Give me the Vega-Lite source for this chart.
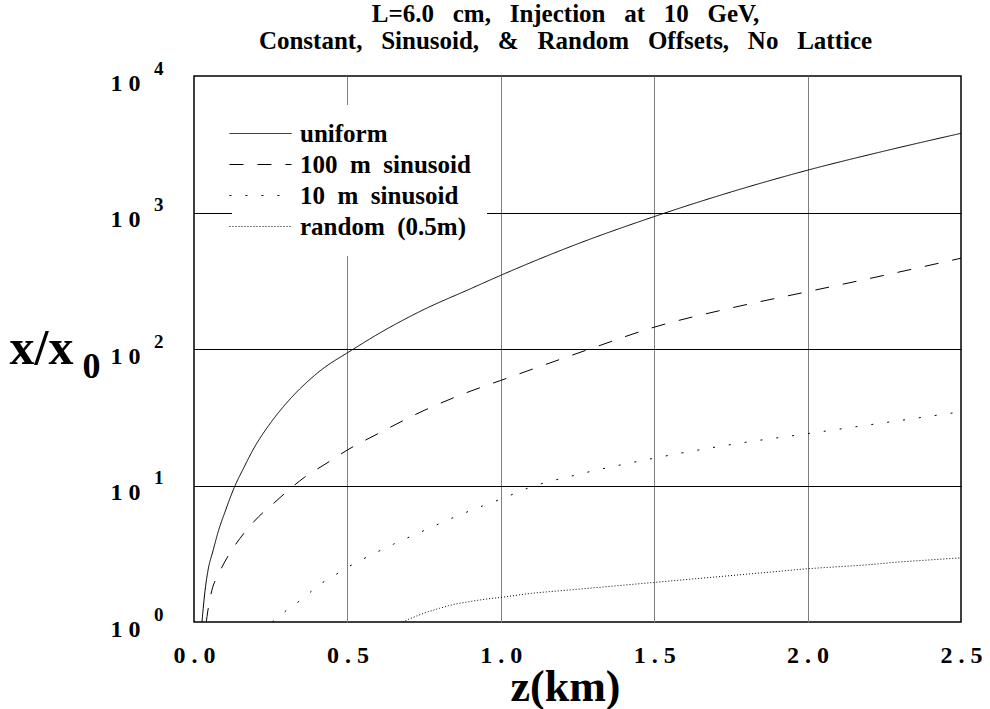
{
  "$schema": "https://vega.github.io/schema/vega-lite/v6.json",
  "width": 767,
  "height": 546,
  "autosize": {"type": "none"},
  "padding": {"left": 194, "top": 76, "right": 29, "bottom": 87},
  "background": "white",
  "title": {
    "text": ["L=6.0\u00a0\u00a0 cm,\u00a0\u00a0 Injection\u00a0\u00a0 at\u00a0\u00a0 10\u00a0\u00a0 GeV,", "Constant,\u00a0\u00a0 Sinusoid,\u00a0\u00a0 &\u00a0\u00a0 Random\u00a0\u00a0 Offsets,\u00a0\u00a0 No\u00a0\u00a0 Lattice"],
    "font": "Liberation Serif",
    "fontWeight": "bold",
    "fontSize": 25,
    "lineHeight": 27,
    "anchor": "middle",
    "offset": 5,
    "dx": -12,
    "color": "black"
  },
  "config": {
    "view": {"stroke": "black", "strokeWidth": 1.5},
    "font": "Liberation Serif",
    "legend": {
      "orient": "none",
      "legendX": 38,
      "legendY": 29,
      "fillColor": "white",
      "padding": 16,
      "symbolType": "M-5,0H5",
      "symbolSize": 154,
      "symbolStrokeColor": "black",
      "symbolFillColor": "transparent",
      "symbolStrokeWidth": 1,
      "labelFont": "Liberation Serif",
      "labelFontWeight": "bold",
      "labelFontSize": 25,
      "labelColor": "black",
      "labelOffset": 27,
      "labelLimit": 400,
      "rowPadding": 5
    }
  },
  "data": {
    "values": [
      {"series": "uniform", "z": 0.026, "v": 1},
      {"series": "uniform", "z": 0.03, "v": 1.259},
      {"series": "uniform", "z": 0.036, "v": 1.698},
      {"series": "uniform", "z": 0.045, "v": 2.344},
      {"series": "uniform", "z": 0.063, "v": 3.388},
      {"series": "uniform", "z": 0.08, "v": 4.677},
      {"series": "uniform", "z": 0.1, "v": 6.31},
      {"series": "uniform", "z": 0.134, "v": 10},
      {"series": "uniform", "z": 0.16, "v": 13.18},
      {"series": "uniform", "z": 0.192, "v": 18.2},
      {"series": "uniform", "z": 0.25, "v": 28.84},
      {"series": "uniform", "z": 0.3, "v": 39.81},
      {"series": "uniform", "z": 0.4, "v": 66.07},
      {"series": "uniform", "z": 0.52, "v": 100},
      {"series": "uniform", "z": 0.6, "v": 128.8},
      {"series": "uniform", "z": 0.75, "v": 195},
      {"series": "uniform", "z": 0.9, "v": 275.4},
      {"series": "uniform", "z": 1.0, "v": 346.7},
      {"series": "uniform", "z": 1.25, "v": 588.8},
      {"series": "uniform", "z": 1.5, "v": 933.3},
      {"series": "uniform", "z": 1.75, "v": 1412.5},
      {"series": "uniform", "z": 2.0, "v": 2041.7},
      {"series": "uniform", "z": 2.25, "v": 2818.4},
      {"series": "uniform", "z": 2.5, "v": 3801.9},

      {"series": "100 m sinusoid", "z": 0.04, "v": 1},
      {"series": "100 m sinusoid", "z": 0.045, "v": 1.202},
      {"series": "100 m sinusoid", "z": 0.058, "v": 1.698},
      {"series": "100 m sinusoid", "z": 0.08, "v": 2.239},
      {"series": "100 m sinusoid", "z": 0.1, "v": 2.754},
      {"series": "100 m sinusoid", "z": 0.13, "v": 3.548},
      {"series": "100 m sinusoid", "z": 0.17, "v": 4.677},
      {"series": "100 m sinusoid", "z": 0.21, "v": 5.888},
      {"series": "100 m sinusoid", "z": 0.26, "v": 7.413},
      {"series": "100 m sinusoid", "z": 0.31, "v": 9.333},
      {"series": "100 m sinusoid", "z": 0.36, "v": 11.48},
      {"series": "100 m sinusoid", "z": 0.43, "v": 14.45},
      {"series": "100 m sinusoid", "z": 0.5, "v": 18.2},
      {"series": "100 m sinusoid", "z": 0.6, "v": 23.99},
      {"series": "100 m sinusoid", "z": 0.75, "v": 35.48},
      {"series": "100 m sinusoid", "z": 0.9, "v": 48.98},
      {"series": "100 m sinusoid", "z": 1.0, "v": 58.88},
      {"series": "100 m sinusoid", "z": 1.29, "v": 100},
      {"series": "100 m sinusoid", "z": 1.5, "v": 144.5},
      {"series": "100 m sinusoid", "z": 1.75, "v": 199.5},
      {"series": "100 m sinusoid", "z": 2.0, "v": 263},
      {"series": "100 m sinusoid", "z": 2.25, "v": 346.7},
      {"series": "100 m sinusoid", "z": 2.5, "v": 462.4},

      {"series": "10 m sinusoid", "z": 0.255, "v": 1},
      {"series": "10 m sinusoid", "z": 0.31, "v": 1.259},
      {"series": "10 m sinusoid", "z": 0.36, "v": 1.514},
      {"series": "10 m sinusoid", "z": 0.4, "v": 1.82},
      {"series": "10 m sinusoid", "z": 0.45, "v": 2.138},
      {"series": "10 m sinusoid", "z": 0.5, "v": 2.512},
      {"series": "10 m sinusoid", "z": 0.55, "v": 2.884},
      {"series": "10 m sinusoid", "z": 0.65, "v": 3.715},
      {"series": "10 m sinusoid", "z": 0.75, "v": 4.677},
      {"series": "10 m sinusoid", "z": 0.84, "v": 5.754},
      {"series": "10 m sinusoid", "z": 0.94, "v": 7.079},
      {"series": "10 m sinusoid", "z": 1.0, "v": 7.943},
      {"series": "10 m sinusoid", "z": 1.1, "v": 9.772},
      {"series": "10 m sinusoid", "z": 1.25, "v": 12.02},
      {"series": "10 m sinusoid", "z": 1.5, "v": 15.85},
      {"series": "10 m sinusoid", "z": 1.75, "v": 19.95},
      {"series": "10 m sinusoid", "z": 2.0, "v": 23.99},
      {"series": "10 m sinusoid", "z": 2.25, "v": 28.84},
      {"series": "10 m sinusoid", "z": 2.5, "v": 34.67},

      {"series": "random (0.5m)", "z": 0.68, "v": 1},
      {"series": "random (0.5m)", "z": 0.7, "v": 1.047},
      {"series": "random (0.5m)", "z": 0.75, "v": 1.161},
      {"series": "random (0.5m)", "z": 0.8, "v": 1.259},
      {"series": "random (0.5m)", "z": 0.84, "v": 1.334},
      {"series": "random (0.5m)", "z": 0.9, "v": 1.413},
      {"series": "random (0.5m)", "z": 0.96, "v": 1.479},
      {"series": "random (0.5m)", "z": 1.0, "v": 1.514},
      {"series": "random (0.5m)", "z": 1.1, "v": 1.622},
      {"series": "random (0.5m)", "z": 1.2, "v": 1.698},
      {"series": "random (0.5m)", "z": 1.3, "v": 1.778},
      {"series": "random (0.5m)", "z": 1.4, "v": 1.862},
      {"series": "random (0.5m)", "z": 1.5, "v": 1.95},
      {"series": "random (0.5m)", "z": 1.6, "v": 2.042},
      {"series": "random (0.5m)", "z": 1.7, "v": 2.138},
      {"series": "random (0.5m)", "z": 1.8, "v": 2.239},
      {"series": "random (0.5m)", "z": 1.9, "v": 2.344},
      {"series": "random (0.5m)", "z": 2.0, "v": 2.455},
      {"series": "random (0.5m)", "z": 2.1, "v": 2.541},
      {"series": "random (0.5m)", "z": 2.2, "v": 2.63},
      {"series": "random (0.5m)", "z": 2.3, "v": 2.754},
      {"series": "random (0.5m)", "z": 2.4, "v": 2.851},
      {"series": "random (0.5m)", "z": 2.5, "v": 2.951}
    ]
  },
  "layer": [
    {
      "mark": {"type": "line", "color": "black", "strokeWidth": 1, "interpolate": "monotone", "clip": true},
      "encoding": {
        "x": {
          "field": "z",
          "type": "quantitative",
          "scale": {"domain": [0, 2.5], "nice": false, "zero": false},
          "axis": {
            "values": [0, 0.5, 1, 1.5, 2, 2.5],
            "labelExpr": "replace(format(datum.value, '.1f'), '.', ' . ')",
            "labelFont": "Liberation Serif",
            "labelFontWeight": "bold",
            "labelFontSize": 24,
            "labelColor": "black",
            "labelPadding": 21,
            "labelFlush": false,
            "labelOverlap": false,
            "ticks": false,
            "domain": false,
            "grid": true,
            "gridColor": "#808080",
            "gridWidth": 1,
            "gridOpacity": {"condition": {"test": "datum.value == 0 || datum.value == 2.5", "value": 0}, "value": 1},
            "title": "z(km)",
            "titleFont": "Liberation Serif",
            "titleFontWeight": "bold",
            "titleFontSize": 44,
            "titleColor": "black",
            "titleX": 371,
            "titleY": 78,
            "titleBaseline": "alphabetic"
          }
        },
        "y": {
          "field": "v",
          "type": "quantitative",
          "scale": {"type": "log", "domain": [1, 10000], "nice": false},
          "axis": {
            "values": [1, 10, 100, 1000, 10000],
            "labelExpr": "'1 0'",
            "labelFont": "Liberation Serif",
            "labelFontWeight": "bold",
            "labelFontSize": 24,
            "labelColor": "black",
            "labelPadding": 54,
            "labelOffset": 7,
            "labelFlush": false,
            "labelOverlap": false,
            "ticks": false,
            "domain": false,
            "grid": true,
            "gridColor": "black",
            "gridWidth": 1,
            "gridOpacity": {"condition": {"test": "datum.value == 1 || datum.value == 10000", "value": 0}, "value": 1},
            "title": "x/x",
            "titleFont": "Liberation Serif",
            "titleFontWeight": "bold",
            "titleFontSize": 50,
            "titleColor": "black",
            "titleAngle": 0,
            "titleAlign": "left",
            "titleBaseline": "middle",
            "titleX": -185,
            "titleY": 272
          }
        },
        "strokeDash": {
          "field": "series",
          "type": "nominal",
          "scale": {
            "domain": ["uniform", "100 m sinusoid", "10 m sinusoid", "random (0.5m)"],
            "range": [[1, 0], [14, 14], [2, 14], [1, 2]]
          },
          "legend": {"title": null, "labelExpr": "replace(datum.label, / /g, '\u00a0 ')"}
        }
      }
    },
    {
      "mark": {"type": "line", "opacity": 0, "strokeWidth": 0},
      "encoding": {
        "x": {"field": "z", "type": "quantitative"},
        "y": {
          "field": "v",
          "type": "quantitative",
          "axis": {
            "orient": "left",
            "values": [1, 10, 100, 1000, 10000],
            "labelExpr": "datum.value == 1 ? '0' : datum.value == 10 ? '1' : datum.value == 100 ? '2' : datum.value == 1000 ? '3' : '4'",
            "labelFont": "Liberation Serif",
            "labelFontWeight": "bold",
            "labelFontSize": 19,
            "labelColor": "black",
            "labelPadding": 31,
            "labelOffset": -8,
            "labelFlush": false,
            "labelOverlap": false,
            "ticks": false,
            "domain": false,
            "grid": false,
            "title": "0",
            "titleFont": "Liberation Serif",
            "titleFontWeight": "bold",
            "titleFontSize": 36,
            "titleColor": "black",
            "titleAngle": 0,
            "titleAlign": "left",
            "titleBaseline": "middle",
            "titleX": -112,
            "titleY": 290
          }
        },
        "detail": {"field": "series", "type": "nominal"}
      }
    }
  ],
  "resolve": {"axis": {"y": "independent"}}
}
